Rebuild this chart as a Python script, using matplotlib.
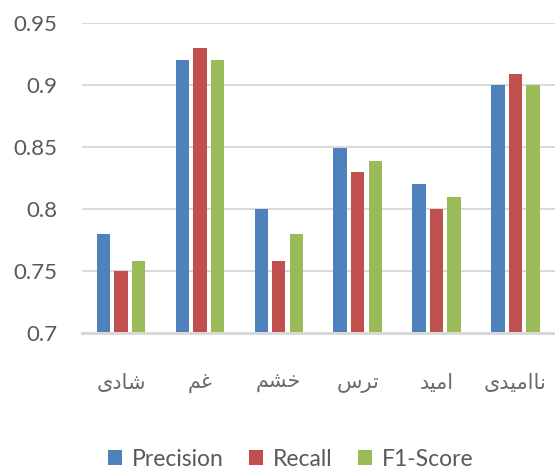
import numpy as np
import matplotlib
matplotlib.use("Agg")
import matplotlib.pyplot as plt
from matplotlib.patches import Patch

# data
categories = ["شادی", "غم", "خشم", "ترس", "امید", "ناامیدی"]
series_names = ["Precision", "Recall", "F1-Score"]
precision = [0.78, 0.92, 0.80, 0.849, 0.82, 0.90]
recall = [0.75, 0.93, 0.758, 0.83, 0.80, 0.909]
f1_score = [0.758, 0.92, 0.78, 0.839, 0.81, 0.90]
y_ticks = [0.7, 0.75, 0.8, 0.85, 0.9, 0.95]
y_tick_labels = ["0.7", "0.75", "0.8", "0.85", "0.9", "0.95"]

colors = ["#4F81BD", "#C0504D", "#9BBB59"]
text_color = "#595959"
grid_color = "#D9D9D9"

# matplotlib does no Arabic shaping, so pick presentation forms by hand
# forms: isolated, final, initial, medial
FORMS = {
    "ا": ("\uFE8D", "\uFE8E", None, None),
    "د": ("\uFEA9", "\uFEAA", None, None),
    "ر": ("\uFEAD", "\uFEAE", None, None),
    "ش": ("\uFEB5", "\uFEB6", "\uFEB7", "\uFEB8"),
    "غ": ("\uFECD", "\uFECE", "\uFECF", "\uFED0"),
    "م": ("\uFEE1", "\uFEE2", "\uFEE3", "\uFEE4"),
    "خ": ("\uFEA5", "\uFEA6", "\uFEA7", "\uFEA8"),
    "ت": ("\uFE95", "\uFE96", "\uFE97", "\uFE98"),
    "س": ("\uFEB1", "\uFEB2", "\uFEB3", "\uFEB4"),
    "ن": ("\uFEE5", "\uFEE6", "\uFEE7", "\uFEE8"),
    "ی": ("\uFBFC", "\uFBFD", "\uFBFE", "\uFBFF"),
}


def shape(word):
    out = []
    for i, ch in enumerate(word):
        f = FORMS.get(ch)
        if f is None:
            out.append(ch)
            continue
        prev = FORMS.get(word[i - 1]) if i > 0 else None
        nxt = word[i + 1] if i + 1 < len(word) else None
        join_prev = prev is not None and prev[2] is not None
        join_next = nxt is not None and f[2] is not None
        if join_prev and join_next:
            out.append(f[3])
        elif join_prev:
            out.append(f[1])
        elif join_next:
            out.append(f[2])
        else:
            out.append(f[0])
    return "".join(reversed(out))


plt.rcParams["font.family"] = ["Lato", "DejaVu Sans"]

fig = plt.figure(figsize=(5.55, 4.68), dpi=100)
ax = fig.add_axes([81.5 / 555, 1 - 332.8 / 468, 1 - 81.5 / 555, (332.8 - 23.3) / 468])

x = np.arange(len(categories))
width = 0.17
offsets = [-0.222, 0.0, 0.222]
for vals, off, c in zip([precision, recall, f1_score], offsets, colors):
    ax.bar(x + off, vals, width, color=c, zorder=3)

ax.set_xlim(-0.5, len(categories) - 0.5)
ax.set_ylim(0.7, 0.95)
ax.set_yticks(y_ticks)
ax.set_yticklabels(y_tick_labels, fontsize=16, color=text_color)
ax.set_xticks(x)
ax.set_xticklabels([shape(c) for c in categories], fontsize=15,
                   color="#6a6a6a", family=["DejaVu Sans"])
ax.tick_params(axis="y", length=0, pad=17.5)
ax.tick_params(axis="x", length=0, pad=29)

ax.grid(axis="y", color=grid_color, linewidth=1.4, zorder=0)
for s in ["top", "right", "left"]:
    ax.spines[s].set_visible(False)
ax.spines["bottom"].set_color(grid_color)
ax.spines["bottom"].set_linewidth(2.2)
ax.spines["bottom"].set_zorder(4)

handles = [Patch(facecolor=c, edgecolor="none") for c in colors]
fig.legend(handles, series_names, loc="center", ncol=3,
           bbox_to_anchor=(291 / 555, 1 - 459 / 468), frameon=False,
           fontsize=16.5, labelcolor=text_color, handlelength=0.6,
           handleheight=0.6, handletextpad=0.45, columnspacing=1.1)

fig.savefig("out.png", dpi=100)
